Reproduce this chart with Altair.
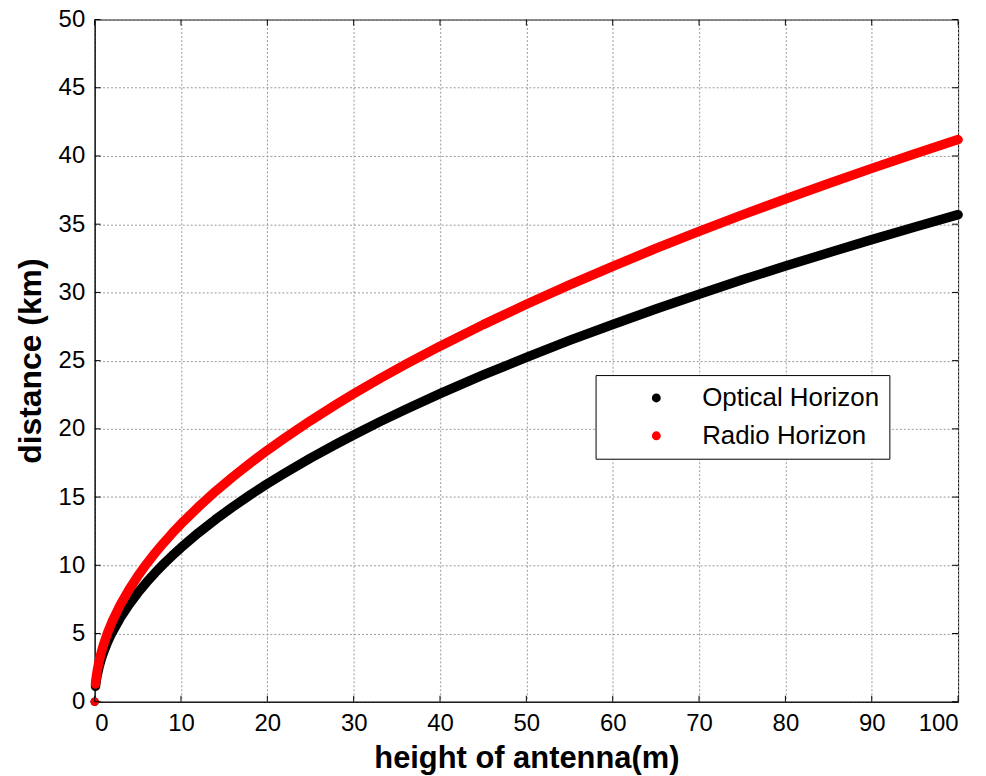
import altair as alt
import pandas as pd

# Data
heights = [0, 0.1, 0.2, 0.3, 0.5, 0.75, 1, 1.5, 2, 3, 4, 5, 6, 7, 8, 9, 10, 12, 14, 16, 18,
           20, 22, 25, 28, 30, 33, 36, 40, 45, 50, 55, 60, 65, 70, 75, 80, 85, 90, 95, 100]
optical = [0, 1.13, 1.60, 1.96, 2.52, 3.09, 3.57, 4.37, 5.05, 6.18, 7.14, 7.98, 8.74, 9.45,
           10.10, 10.71, 11.29, 12.37, 13.36, 14.28, 15.15, 15.97, 16.74, 17.85, 18.89, 19.55,
           20.51, 21.42, 22.58, 23.95, 25.24, 26.48, 27.65, 28.78, 29.87, 30.92, 31.93, 32.91,
           33.87, 34.80, 35.70]
radio = [0, 1.30, 1.84, 2.26, 2.91, 3.57, 4.12, 5.05, 5.83, 7.14, 8.24, 9.21, 10.09, 10.90,
         11.65, 12.36, 13.03, 14.27, 15.42, 16.48, 17.48, 18.43, 19.32, 20.60, 21.80, 22.57,
         23.67, 24.72, 26.06, 27.64, 29.13, 30.55, 31.91, 33.22, 34.47, 35.68, 36.85, 37.98,
         39.09, 40.16, 41.20]
series = ["Optical Horizon", "Radio Horizon"]
colors = ["#000000", "#ff0000"]
x_ticks = [0, 10, 20, 30, 40, 50, 60, 70, 80, 90, 100]
y_ticks = [0, 5, 10, 15, 20, 25, 30, 35, 40, 45, 50]

rows = []
for name, vals in zip(series, [optical, radio]):
    for h, d in zip(heights, vals):
        rows.append({"h": h, "d": d, "series": name})
df = pd.DataFrame(rows)
xt = pd.DataFrame({"t": x_ticks})
yt = pd.DataFrame({"t": y_ticks})

W, H = 867, 685
FONT = "Liberation Sans"
TL = 6  # inward tick length

xs = alt.Scale(domain=[0, 100], nice=False, zero=False)
ys = alt.Scale(domain=[0, 50], nice=False, zero=False)
cs = alt.Scale(domain=series, range=colors)

xaxis = alt.Axis(values=x_ticks, title="height of antenna(m)", labelPadding=10,
                 titleBaseline="alphabetic", titleY=66, titleFontSize=31, grid=True)
yaxis = alt.Axis(values=y_ticks, title="distance (km)", labelPadding=10,
                 titlePadding=11, titleFontSize=32, grid=True)

legend = alt.Legend(
    title=None, orient="none", legendX=503, legendY=357,
    strokeColor="black", fillColor="white", padding=10,
    symbolOffset=38, labelOffset=33, symbolSize=80, symbolType="circle",
    symbolStrokeWidth=0, labelFontSize=26, labelFont=FONT, labelColor="black",
    rowPadding=12, labelLimit=400)

line = alt.Chart(df).transform_filter("datum.h > 0").mark_line(
    strokeWidth=9.5, strokeCap="round", strokeJoin="round"
).encode(
    x=alt.X("h:Q", scale=xs, axis=xaxis),
    y=alt.Y("d:Q", scale=ys, axis=yaxis),
    color=alt.Color("series:N", scale=cs, legend=legend),
)

pts = alt.Chart(df).transform_filter("datum.h == 0").mark_circle(size=70, opacity=1).encode(
    x=alt.X("h:Q", scale=xs),
    y=alt.Y("d:Q", scale=ys),
    color=alt.Color("series:N", scale=cs, legend=legend),
    order=alt.Order("series:N"),
)

tick_bottom = alt.Chart(xt).mark_rule(color="black", strokeWidth=1).encode(
    x=alt.X("t:Q", scale=xs), y=alt.value(H), y2=alt.value(H - TL))
tick_top = alt.Chart(xt).mark_rule(color="black", strokeWidth=1).encode(
    x=alt.X("t:Q", scale=xs), y=alt.value(0), y2=alt.value(TL))
tick_left = alt.Chart(yt).mark_rule(color="black", strokeWidth=1).encode(
    y=alt.Y("t:Q", scale=ys), x=alt.value(0), x2=alt.value(TL))
tick_right = alt.Chart(yt).mark_rule(color="black", strokeWidth=1).encode(
    y=alt.Y("t:Q", scale=ys), x=alt.value(W), x2=alt.value(W - TL))

chart = alt.layer(line, pts, tick_bottom, tick_top, tick_left, tick_right).properties(
    width=W, height=H,
    background="white",
    autosize=alt.AutoSizeParams(type="none"),
    padding={"left": 87, "top": 10, "right": 20, "bottom": 73},
).configure_view(
    stroke="black", strokeWidth=1, fill="white"
).configure_axis(
    labelFont=FONT, labelFontSize=24, labelColor="black",
    titleFont=FONT, titleFontWeight="bold", titleColor="black",
    domainColor="black", domainWidth=1, ticks=False,
    gridColor="#9a9a9a", gridDash=[2, 2], gridWidth=1,
)

chart.save("out.html", embed_options={"renderer": "svg", "actions": False})
